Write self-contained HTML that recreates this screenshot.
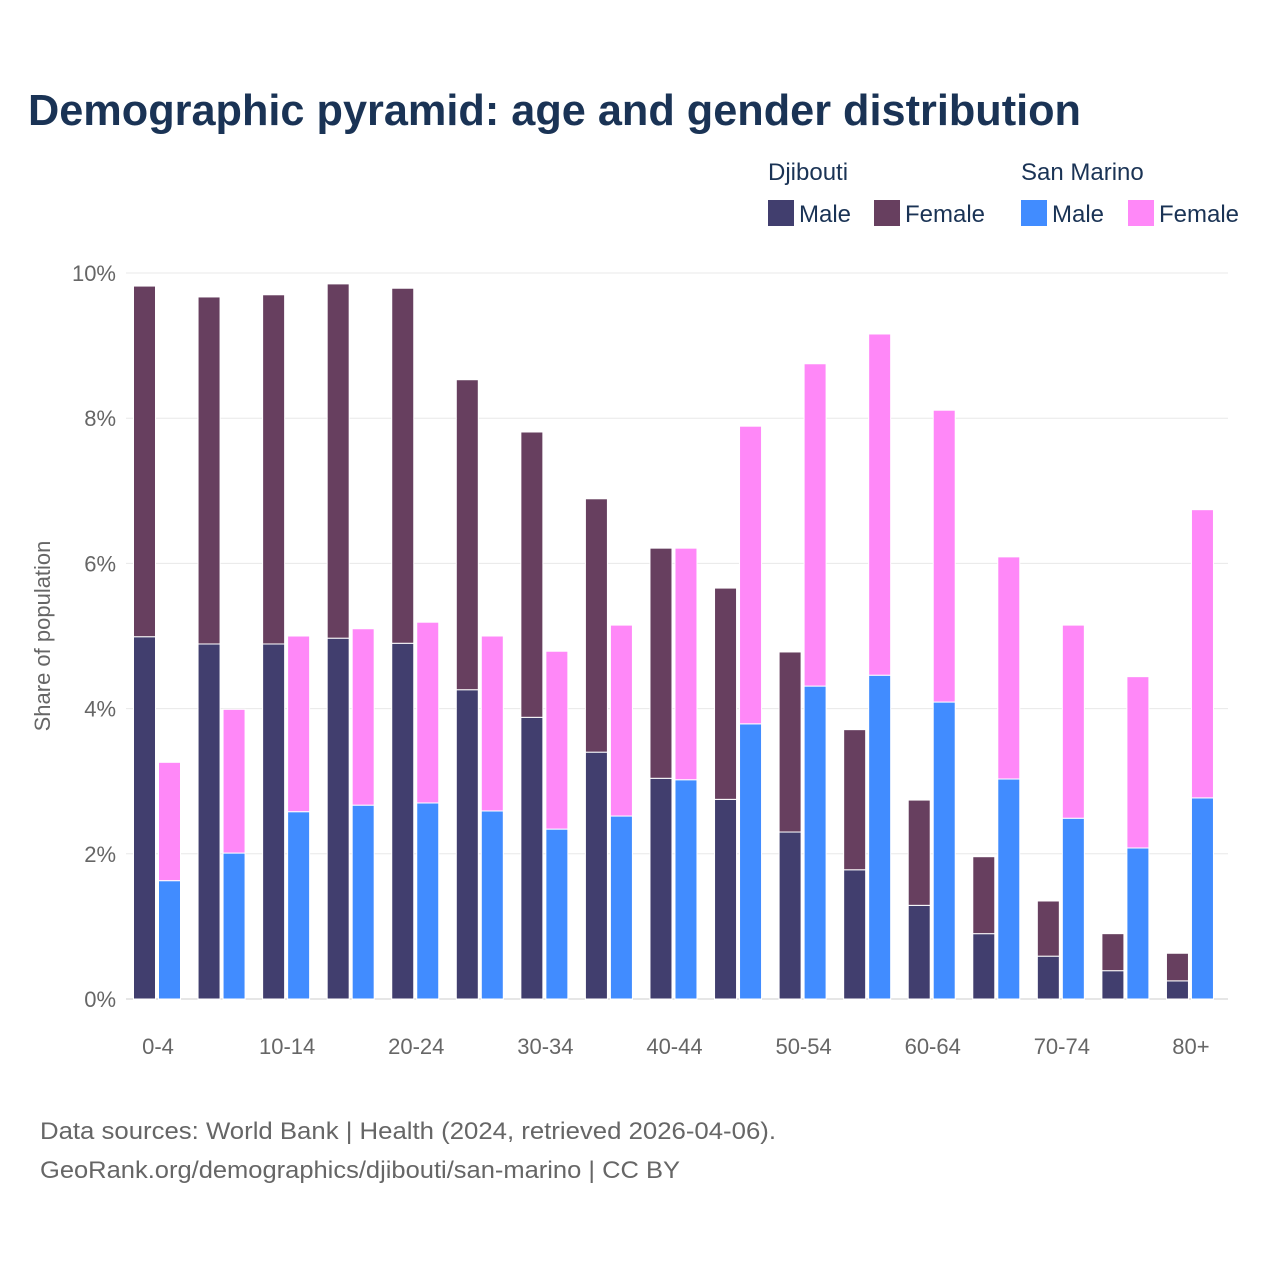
<!DOCTYPE html>
<html><head><meta charset="utf-8"><style>
body{margin:0;width:1280px;height:1280px;background:#fff;font-family:"Liberation Sans",sans-serif;overflow:hidden}
</style></head><body>
<svg id="chart" width="1280" height="1280" xmlns="http://www.w3.org/2000/svg">
<text x="28" y="125" font-size="44" font-weight="bold" fill="#1a3355" textLength="1053" lengthAdjust="spacingAndGlyphs">Demographic pyramid: age and gender distribution</text>
<g font-size="24" fill="#1a3355">
<text x="768" y="180">Djibouti</text>
<text x="1021" y="180">San Marino</text>
<rect x="768" y="200" width="26" height="26" fill="#413e6e"/>
<text x="799" y="222">Male</text>
<rect x="874" y="200" width="26" height="26" fill="#673f5f"/>
<text x="905" y="222">Female</text>
<rect x="1021" y="200" width="26" height="26" fill="#418cff"/>
<text x="1052" y="222">Male</text>
<rect x="1128" y="200" width="26" height="26" fill="#ff88f8"/>
<text x="1159" y="222">Female</text>
</g>
<text transform="translate(50,636) rotate(-90)" text-anchor="middle" font-size="22" fill="#666">Share of population</text>
<g id="grid"></g><g id="bars"></g><g id="xlabels"></g>
<text x="40" y="1139" font-size="24" fill="#666" textLength="736" lengthAdjust="spacingAndGlyphs">Data sources: World Bank | Health (2024, retrieved 2026-04-06).</text>
<text x="40" y="1178" font-size="24" fill="#666" textLength="640" lengthAdjust="spacingAndGlyphs">GeoRank.org/demographics/djibouti/san-marino | CC BY</text>
</svg>
<script>
const categories=["0-4","5-9","10-14","15-19","20-24","25-29","30-34","35-39","40-44","45-49","50-54","55-59","60-64","65-69","70-74","75-79","80+"];
const djMale=[4.99,4.89,4.89,4.97,4.90,4.26,3.88,3.40,3.04,2.75,2.30,1.78,1.29,0.90,0.59,0.39,0.25];
const djFemale=[4.83,4.78,4.81,4.88,4.89,4.27,3.93,3.49,3.17,2.91,2.48,1.93,1.45,1.06,0.76,0.51,0.38];
const smMale=[1.63,2.01,2.58,2.67,2.70,2.59,2.34,2.52,3.02,3.79,4.31,4.46,4.09,3.03,2.49,2.08,2.77];
const smFemale=[1.63,1.98,2.42,2.43,2.49,2.41,2.45,2.63,3.19,4.10,4.44,4.70,4.02,3.06,2.66,2.36,3.97];
const yTicks=[0,2,4,6,8,10];
const NS="http://www.w3.org/2000/svg";
const y0=999,pxPer=72.6;
const y=v=>y0-v*pxPer;
const gx=i=>158+i*64.56;
const grid=document.getElementById('grid'),bars=document.getElementById('bars'),xl=document.getElementById('xlabels');
function mk(tag,attrs,parent){const e=document.createElementNS(NS,tag);for(const k in attrs)e.setAttribute(k,attrs[k]);parent.appendChild(e);return e;}
yTicks.forEach(t=>{
 const l=mk('line',{x1:126,x2:1228,y1:y(t),y2:y(t),stroke:t===0?'#ccc':'#e8e8e8','stroke-width':1},grid);
 
 
 const tx=mk('text',{x:116,y:y(t)+8,'text-anchor':'end','font-size':22,fill:'#666'},grid);
 tx.textContent=t+'%';
 
 
});
const bw=22;
function bar(x,v0,v1,fill,name){
 const r=mk('rect',{x:x,y:y(v1),width:bw,height:y(v0)-y(v1),fill:fill,stroke:'#fff','stroke-width':1},bars);
 
 
}
categories.forEach((c,i)=>{
 const cx=gx(i);
 const xd=cx-24.5,xs=cx+0.5;
 bar(xd,0,djMale[i],'#413e6e','bar-djibouti-male-'+c);
 bar(xd,djMale[i],djMale[i]+djFemale[i],'#673f5f','bar-djibouti-female-'+c);
 bar(xs,0,smMale[i],'#418cff','bar-sanmarino-male-'+c);
 bar(xs,smMale[i],smMale[i]+smFemale[i],'#ff88f8','bar-sanmarino-female-'+c);
 if(i%2===0){
  const t=mk('text',{x:cx,y:1054,'text-anchor':'middle','font-size':22,fill:'#666'},xl);
  t.textContent=c;
  
  
 }
});
</script>
</body></html>
